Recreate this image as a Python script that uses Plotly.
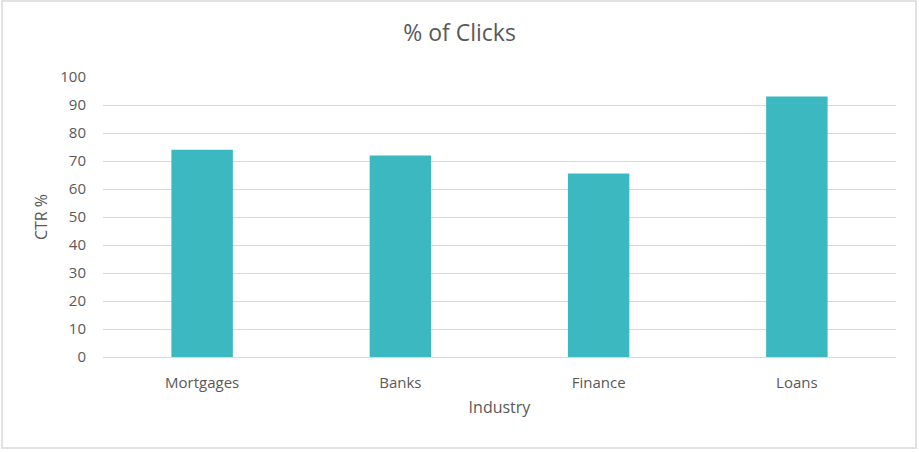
import plotly.graph_objects as go

# Chart data
industries = ["Mortgages", "Banks", "Finance", "Loans"]
ctr_pct = [74, 72, 65.5, 93]
y_ticks = list(range(0, 101, 10))

W, H = 919, 452
L, R, T, B = 103, 23, 77, 95
plot_w = W - L - R
plot_h = H - T - B

fig = go.Figure()
fig.add_trace(go.Bar(
  x=industries, y=ctr_pct,
  marker_color="#3bb8c0",
  marker_line_width=0,
  name="CTR %"
))

# light frame around the whole chart
fig.add_shape(
  type="rect", xref="paper", yref="paper",
  x0=(2 - L) / plot_w, x1=(916 - L) / plot_w,
  y0=-(448 - (H - B)) / plot_h, y1=((H - B) - 1) / plot_h,
  line=dict(color="#d9d9d9", width=1.5), layer="below"
)

fig.update_layout(
  width=W, height=H,
  margin=dict(l=L, r=R, t=T, b=B),
  paper_bgcolor="white",
  plot_bgcolor="white",
  font=dict(family="Open Sans, Noto Sans, sans-serif", color="#595959", size=15),
  title=dict(text="% of Clicks", x=0.5, xref="container",
             y=1 - 33 / H, yanchor="middle", font=dict(size=23, color="#595959")),
  bargap=0.69,
  showlegend=False
)
fig.update_xaxes(
  title=dict(text="Industry", standoff=10, font=dict(size=16)),
  showline=True, linecolor="#d9d9d9", linewidth=1,
  tickfont=dict(size=15), ticks="outside", ticklen=12, tickcolor="white"
)
fig.update_yaxes(
  title=dict(text="CTR %", standoff=8, font=dict(size=16)),
  range=[0, 100], tickvals=y_ticks,
  showgrid=True, gridcolor="#d9d9d9", gridwidth=1,
  zeroline=False, tickfont=dict(size=15),
  ticks="outside", ticklen=13, tickcolor="white"
)

# drop the browser's default body margin so the chart sits at the page corner
fig.write_html("out.html", config={"displayModeBar": False},
               post_script="document.body.style.margin='0';")
